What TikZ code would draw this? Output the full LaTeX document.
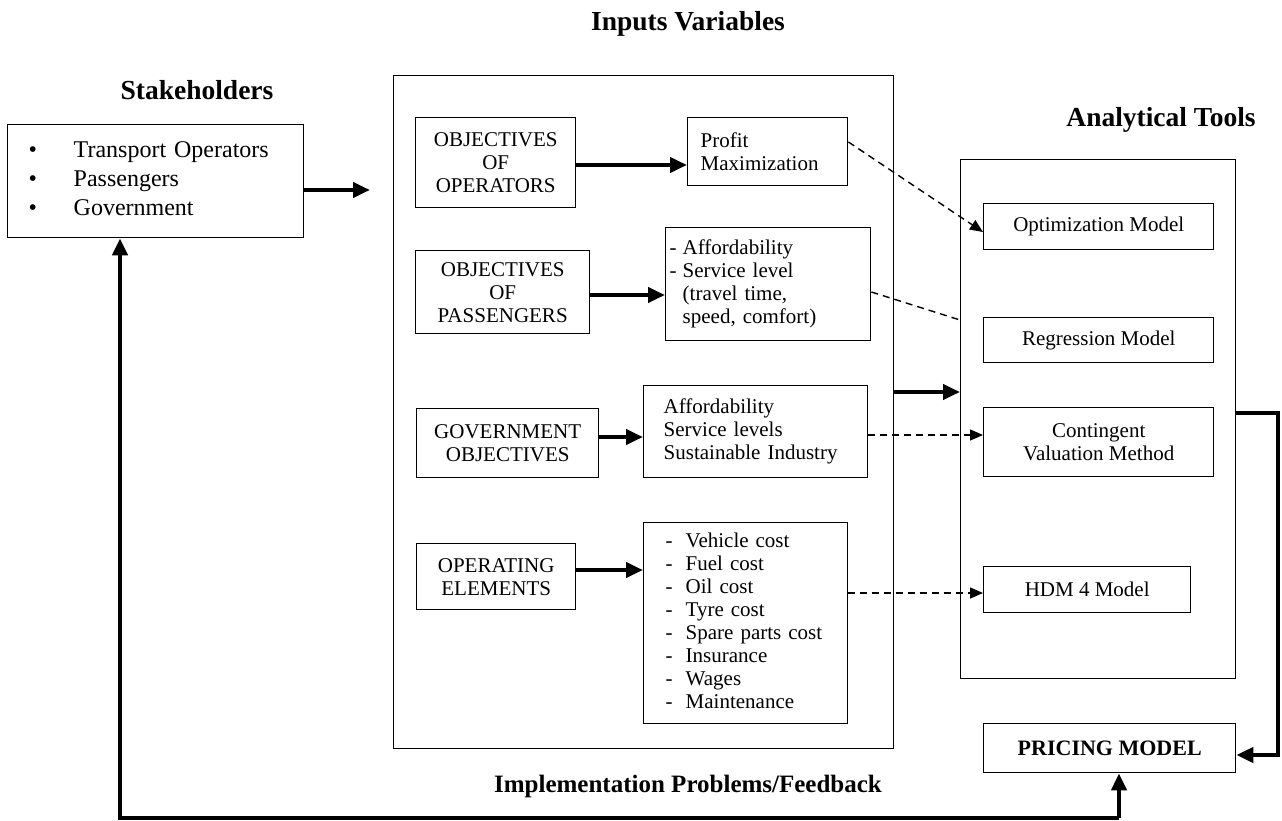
\documentclass[tikz,border=0pt]{standalone}
\usepackage{fontspec}
\setmainfont{Liberation Serif}
\usetikzlibrary{arrows.meta}
\begin{document}
\begin{tikzpicture}[x=1pt,y=-1pt,
  bx/.style={draw, line width=1.4pt, inner ysep=0pt, anchor=north west, font=\fontsize{21}{23}\selectfont},
  thk/.style={line width=4.5pt, -{Triangle[length=17pt,width=15pt]}},
  thkline/.style={line width=4.5pt},
  dsh/.style={line width=1.4pt, dash pattern=on 7pt off 5pt, -{Triangle[length=13pt,width=11pt]}},
  dshline/.style={line width=1.4pt, dash pattern=on 7pt off 5pt},
  ttl/.style={font=\bfseries\fontsize{27.5}{30}\selectfont, inner sep=0pt}
]
\useasboundingbox (0,0) rectangle (1282,821);

% titles
\node[ttl] (tInputs) at (688,24) {Inputs Variables};
\node[ttl] (tStake) at (197,90) {Stakeholders};
\node[ttl] (tTools) at (1161,120) {Analytical Tools};
\node[ttl, font=\bfseries\fontsize{25}{28}\selectfont] (tFeed) at (688,786) {Implementation Problems/Feedback};

% stakeholders
\node[bx, font=\fontsize{24}{29}\selectfont, minimum width=296pt, minimum height=113pt,
      text width=254pt, inner xsep=21pt, align=left] (stake) at (7,124)
  {\begin{tabular}{@{}p{45pt}@{}l@{}}\textbullet&Transport Operators\\\textbullet&Passengers\\\textbullet&Government\end{tabular}};

% inputs big box
\node[bx, minimum width=500pt, minimum height=673pt, inner sep=0pt] (inputs) at (393,75) {};

% inner boxes
\node[bx, minimum width=160pt, minimum height=90pt, align=center] (oo) at (415,117) {OBJECTIVES\\OF\\OPERATORS};
\node[bx, minimum width=160pt, minimum height=68pt, text width=134pt, inner xsep=13pt, align=left] (pm) at (687,117) {Profit\\Maximization};

\node[bx, minimum width=174pt, minimum height=83pt, align=center] (op) at (415,250) {OBJECTIVES\\OF\\PASSENGERS};
\node[bx, minimum width=205pt, minimum height=113pt, text width=197pt, inner xsep=4pt, align=left] (pp) at (665,227)
  {\begin{tabular}{@{}p{13pt}@{}l@{}}-&Affordability\\-&Service level\\&(travel time,\\&speed, comfort)\end{tabular}};

\node[bx, minimum width=182pt, minimum height=69pt, align=center] (go) at (416,408) {GOVERNMENT\\OBJECTIVES};
\node[bx, minimum width=204pt, minimum height=92pt, text width=184pt, inner xsep=20pt, align=left] (gp) at (643,385)
  {Affordability\\Service levels\\Sustainable Industry};

\node[bx, minimum width=159pt, minimum height=66pt, align=center] (oe) at (416,543) {OPERATING\\ELEMENTS};
\node[bx, minimum width=204pt, minimum height=201pt, text width=160pt, inner xsep=22pt, align=left] (oc) at (643,522)
  {\begin{tabular}{@{}p{20pt}@{}l@{}}-&Vehicle cost\\-&Fuel cost\\-&Oil cost\\-&Tyre cost\\-&Spare parts cost\\-&Insurance\\-&Wages\\-&Maintenance\end{tabular}};

% analytical tools
\node[bx, minimum width=275pt, minimum height=519pt, inner sep=0pt] (at) at (960,159) {};
\node[bx, minimum width=230pt, minimum height=46pt, align=center] (om) at (983,203) {Optimization Model};
\node[bx, minimum width=230pt, minimum height=45pt, align=center] (rm) at (983,317) {Regression Model};
\node[bx, minimum width=230pt, minimum height=69pt, align=center] (cv) at (983,407) {Contingent\\Valuation Method};
\node[bx, minimum width=207pt, minimum height=46pt, align=center] (hdm) at (983,566) {HDM 4 Model};
\node[bx, minimum width=252pt, minimum height=49pt, align=center, font=\bfseries\fontsize{22}{24}\selectfont] (price) at (983,723) {PRICING MODEL};

% helper coordinates
\coordinate (sa) at (370,190);
\coordinate (y1) at (0,165);
\coordinate (y2) at (0,295);
\coordinate (y3) at (0,437);
\coordinate (y4) at (0,570);
\coordinate (d1a) at (0,142);
\coordinate (d1b) at (0,232);
\coordinate (d2a) at (0,292);
\coordinate (d2b) at (0,320);
\coordinate (d3) at (0,435);
\coordinate (d4) at (0,593);
\coordinate (mid) at (0,392);
\coordinate (rt) at (1278,413);
\coordinate (rb) at (1278,755);
\coordinate (fbL) at (120,818);
\coordinate (fbR) at (1119,818);

% solid arrows
\draw[thk] (stake.east |- sa) -- (sa);
\draw[thk] (oo.east |- y1) -- (pm.west |- y1);
\draw[thk] (op.east |- y2) -- (pp.west |- y2);
\draw[thk] (go.east |- y3) -- (gp.west |- y3);
\draw[thk] (oe.east |- y4) -- (oc.west |- y4);
\draw[thk] (inputs.east |- mid) -- (at.west |- mid);
\draw[thk] (at.east |- rt) -- (rt) -- (rb) -- (price.east |- rb);
\draw[thk] (fbR) -- (price.south -| fbR);
\draw[thk] (fbR) -- (fbL) -- (stake.south -| fbL);

% dashed connectors
\draw[dsh] (pm.east |- d1a) -- (om.west |- d1b);
\draw[dshline] (pp.east |- d2a) -- (at.west |- d2b);
\draw[dsh] (gp.east |- d3) -- (cv.west |- d3);
\draw[dsh] (oc.east |- d4) -- (hdm.west |- d4);
\end{tikzpicture}
\end{document}
